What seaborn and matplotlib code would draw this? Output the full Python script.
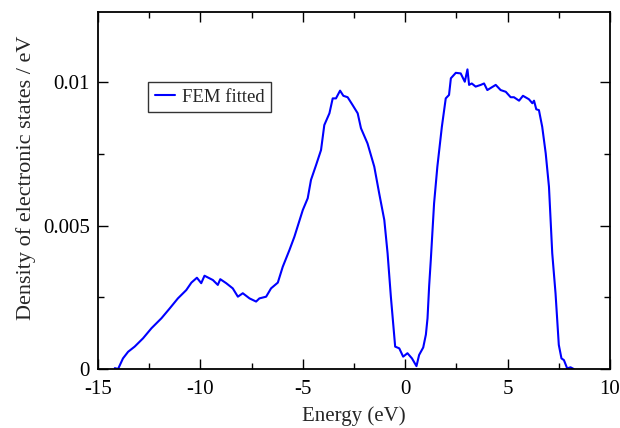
import matplotlib
matplotlib.use("Agg")
import matplotlib.pyplot as plt
import seaborn as sns
import pandas as pd
from matplotlib.ticker import MultipleLocator, FixedLocator, FixedFormatter

energy = [-14.18, -14.02, -13.78, -13.53, -13.21, -12.80, -12.39, -11.90, -11.50, -11.10,
          -10.69, -10.44, -10.17, -9.96, -9.80, -9.39, -9.15, -9.03, -8.74, -8.42,
          -8.17, -7.93, -7.60, -7.28, -7.12, -6.79, -6.55, -6.22, -5.98, -5.65,
          -5.41, -5.00, -4.76, -4.60, -4.35, -4.11, -3.95, -3.70, -3.54, -3.38,
          -3.18, -3.02, -2.81, -2.57, -2.32, -2.16, -1.84, -1.51, -1.27, -1.02,
          -0.86, -0.70, -0.49, -0.29, -0.10, 0.11, 0.33, 0.55, 0.68, 0.88,
          1.01, 1.09, 1.17, 1.25, 1.41, 1.57, 1.79, 1.98, 2.14, 2.23,
          2.47, 2.71, 2.91, 3.04, 3.12, 3.25, 3.44, 3.69, 3.85, 4.01,
          4.42, 4.66, 4.91, 5.15, 5.31, 5.56, 5.75, 6.04, 6.21, 6.29,
          6.40, 6.53, 6.69, 6.86, 7.02, 7.18, 7.34, 7.50, 7.63, 7.75,
          7.91, 8.07, 8.23]
dos = [0.00003, 0.00000, 0.00037, 0.00060, 0.00078, 0.00107, 0.00142, 0.00177, 0.00211, 0.00246,
       0.00275, 0.00301, 0.00318, 0.00299, 0.00325, 0.00310, 0.00293, 0.00313, 0.00299, 0.00281,
       0.00252, 0.00264, 0.00246, 0.00235, 0.00246, 0.00252, 0.00281, 0.00301, 0.00356, 0.00415,
       0.00461, 0.00554, 0.00595, 0.00659, 0.00711, 0.00763, 0.00850, 0.00891, 0.00943, 0.00943,
       0.00970, 0.00952, 0.00947, 0.00920, 0.00891, 0.00839, 0.00786, 0.00705, 0.00612, 0.00519,
       0.00403, 0.00252, 0.00078, 0.00072, 0.00043, 0.00055, 0.00037, 0.00010, 0.00049, 0.00075,
       0.00120, 0.00177, 0.00290, 0.00380, 0.00577, 0.00705, 0.00844, 0.00943, 0.00955, 0.01013,
       0.01032, 0.01030, 0.01001, 0.01044, 0.00990, 0.00995, 0.00984, 0.00990, 0.00995, 0.00972,
       0.00990, 0.00972, 0.00966, 0.00947, 0.00947, 0.00935, 0.00952, 0.00940, 0.00926, 0.00935,
       0.00905, 0.00902, 0.00844, 0.00752, 0.00635, 0.00403, 0.00264, 0.00084, 0.00037, 0.00031,
       0.00002, 0.00006, 0.00000]

x_ticks = [-15, -10, -5, 0, 5, 10]
x_tick_labels = ["-15", "-10", "-5", "0", "5", "10"]
y_ticks = [0, 0.005, 0.01]
y_tick_labels = ["0", "0.005", "0.01"]

sns.set_style("ticks")
plt.rcParams["font.family"] = ["Liberation Serif", "DejaVu Serif"]
plt.rcParams["axes.unicode_minus"] = False

df = pd.DataFrame({"Energy": energy, "DOS": dos})

fig = plt.figure(figsize=(6.2, 4.28), dpi=100)
ax = fig.add_axes([98/620, 1-369/428, (610-98)/620, (369-12)/428])
sns.lineplot(data=df, x="Energy", y="DOS", ax=ax, color="#0000ff", linewidth=1.5,
             label="FEM fitted", sort=False)

ax.set_xlim(-15, 10)
ax.set_ylim(0, 0.01244)
ax.xaxis.set_major_locator(FixedLocator(x_ticks))
ax.xaxis.set_major_formatter(FixedFormatter(x_tick_labels))
ax.xaxis.set_minor_locator(MultipleLocator(2.5))
ax.yaxis.set_major_locator(FixedLocator(y_ticks))
ax.yaxis.set_major_formatter(FixedFormatter(y_tick_labels))
ax.yaxis.set_minor_locator(MultipleLocator(0.0025))
ax.tick_params(which="both", direction="in", top=True, right=True, labelsize=15, colors="black")
ax.tick_params(axis="x", which="major", pad=8)
ax.tick_params(axis="y", which="major", pad=6)
ax.tick_params(which="major", length=7, width=1)
ax.tick_params(which="minor", length=4, width=1)
for s in ax.spines.values():
    s.set_linewidth(1.3)
    s.set_color("black")

ax.set_xlabel("Energy (eV)", fontsize=15, labelpad=5)
ax.set_ylabel("Density of electronic states / eV", fontsize=16)
ax.yaxis.set_label_coords(-0.121, 0.535)

leg = ax.legend(loc="upper left", bbox_to_anchor=((148-98)/512, (369-82)/357),
                fontsize=13.5, frameon=True, fancybox=False, handlelength=1.07,
                borderpad=0.35, handletextpad=0.37, borderaxespad=0)
leg.get_frame().set_edgecolor("black")
leg.get_frame().set_linewidth(1.0)

fig.savefig("out.png", dpi=100)
